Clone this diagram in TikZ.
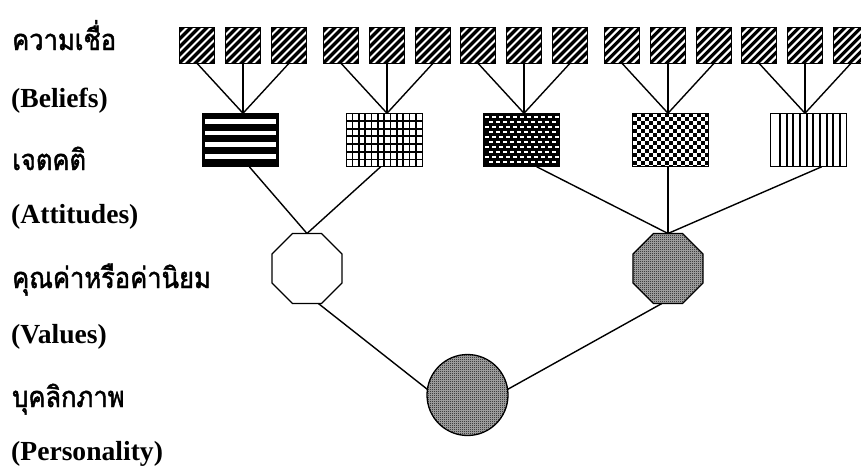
\documentclass[tikz,border=0pt]{standalone}
\usepackage{fontspec}
\setmainfont{Liberation Serif}
\newfontfamily\thaifont[Script=Thai, FakeBold=1.6, FakeStretch=0.88]{Loma}
\usetikzlibrary{shapes.geometric,patterns,calc}

\pgfdeclarepatternformonly{finecheck}{\pgfpointorigin}{\pgfqpoint{2pt}{2pt}}{\pgfqpoint{2pt}{2pt}}{%
  \pgfpathrectangle{\pgfpointorigin}{\pgfqpoint{1pt}{1pt}}%
  \pgfpathrectangle{\pgfqpoint{1pt}{1pt}}{\pgfqpoint{1pt}{1pt}}%
  \pgfusepath{fill}}

\tikzset{
  conn/.style={line width=1.4pt},
  sqbox/.style={draw, line width=1.3pt, minimum size=35.5pt, inner sep=0pt, outer sep=0pt,
    path picture={
      \foreach \i in {-6,...,6}
        \draw[black, line width=3.2pt] ($(path picture bounding box.center)+({\i*8-25},25)$) -- ++(50,-50);}},
  recbox/.style={draw, line width=1.3pt, minimum width=76pt, minimum height=53.5pt, inner sep=0pt, outer sep=0pt},
  stripesH/.style={fill=black, path picture={
      \foreach \k in {0,...,4}
        \fill[white] ($(path picture bounding box.north west)+(2.5,{6+11.6*\k})$) rectangle ++(71,4.5);}},
  gridbox/.style={fill=white, path picture={
      \foreach \k in {1,...,11}
        \draw[black, line width=1.4pt] ($(path picture bounding box.north west)+({\k*6.33},-2)$) -- ++(0,60);
      \foreach \k in {1,...,6}
        \draw[black, line width=1.8pt] ($(path picture bounding box.north west)+(-2,{\k*7.7})$) -- ++(80,0);}},
  brickbox/.style={fill=black, path picture={
      \foreach \r in {0,...,10}
        \foreach \c in {0,...,11}
          \fill[white] ($(path picture bounding box.north west)+({\c*7+mod(\r,2)*3.5+1.5},{\r*5+3})$) rectangle ++(4,1.3);}},
  checkbox/.style={fill=white, path picture={
      \foreach \r in {0,...,13}
        \foreach \c in {0,...,9}
          \fill[black] ($(path picture bounding box.north west)+({\c*8+mod(\r,2)*4},{\r*4})$) rectangle ++(4,4);}},
  vlinebox/.style={fill=white, path picture={
      \foreach \k in {0,...,9}
        \draw[black, line width=2pt] ($(path picture bounding box.north west)+({9.3+\k*6.67},-2)$) -- ++(0,60);}},
  finefill/.style={fill=black!30, postaction={pattern=finecheck}},
  octbox/.style={regular polygon, regular polygon sides=8, draw, line width=1.3pt,
    minimum size=75.8pt, inner sep=0pt, outer sep=0pt},
  circbox/.style={circle, draw, line width=1.3pt, minimum size=81pt, inner sep=0pt, outer sep=0pt},
  englab/.style={anchor=base west, inner sep=0pt, font=\bfseries\fontsize{27.6}{30}\selectfont},
  thailab/.style={anchor=base west, inner sep=0pt, font=\thaifont\fontsize{29}{32}\selectfont}
}

\begin{document}
\begin{tikzpicture}[x=1pt,y=-1pt]
\useasboundingbox (0,0) rectangle (861,469);

% labels
\node[thailab] (t1) at (12,50)  {ความเชื่อ};
\node[englab]  (e1) at (11,107) {(Beliefs)};
\node[thailab] (t2) at (12,170) {เจตคติ};
\node[englab]  (e2) at (11,223) {(Attitudes)};
\node[thailab] (t3) at (12,288) {คุณค่าหรือค่านิยม};
\node[englab]  (e3) at (11,343) {(Values)};
\node[thailab] (t4) at (12,407) {บุคลิกภาพ};
\node[englab]  (e4) at (11,460) {(Personality)};

% attitude boxes
\node[recbox, stripesH] (r1) at (240.3,140) {};
\node[recbox, gridbox]  (r2) at (384.2,140) {};
\node[recbox, brickbox] (r3) at (521.7,140) {};
\node[recbox, checkbox] (r4) at (670.8,140) {};
\node[recbox, vlinebox] (r5) at (808.7,140) {};

% belief squares and their connectors
\foreach \g/\x in {1/243,2/387,3/524,4/668,5/805} {
  \node[sqbox] (s\g-1) at ({\x-46},45.5) {};
  \node[sqbox] (s\g-2) at (\x,45.5) {};
  \node[sqbox] (s\g-3) at ({\x+46},45.5) {};
  \draw[conn] (s\g-1.south) -- (s\g-2 |- r\g.north);
  \draw[conn] (s\g-2.south) -- (s\g-2 |- r\g.north);
  \draw[conn] (s\g-3.south) -- (s\g-2 |- r\g.north);
}

% values
\node[octbox] (o1) at (307,268.5) {};
\node[octbox, finefill] (o2) at (668,268.5) {};

% personality
\node[circbox, finefill] (c) at (467.5,395) {};

\draw[conn] ([xshift=9pt]r1.south) -- (o1.north);
\draw[conn] ([xshift=-3.5pt]r2.south) -- (o1.north);
\draw[conn] ([xshift=15pt]r3.south) -- (o2.north);
\draw[conn] (o2.north |- r4.south) -- (o2.north);
\draw[conn] ([xshift=13pt]r5.south) -- (o2.north);

\draw[conn] (o1.-72) -- (c.172);
\draw[conn] (o2.-100) -- (c.8);
\end{tikzpicture}
\end{document}
